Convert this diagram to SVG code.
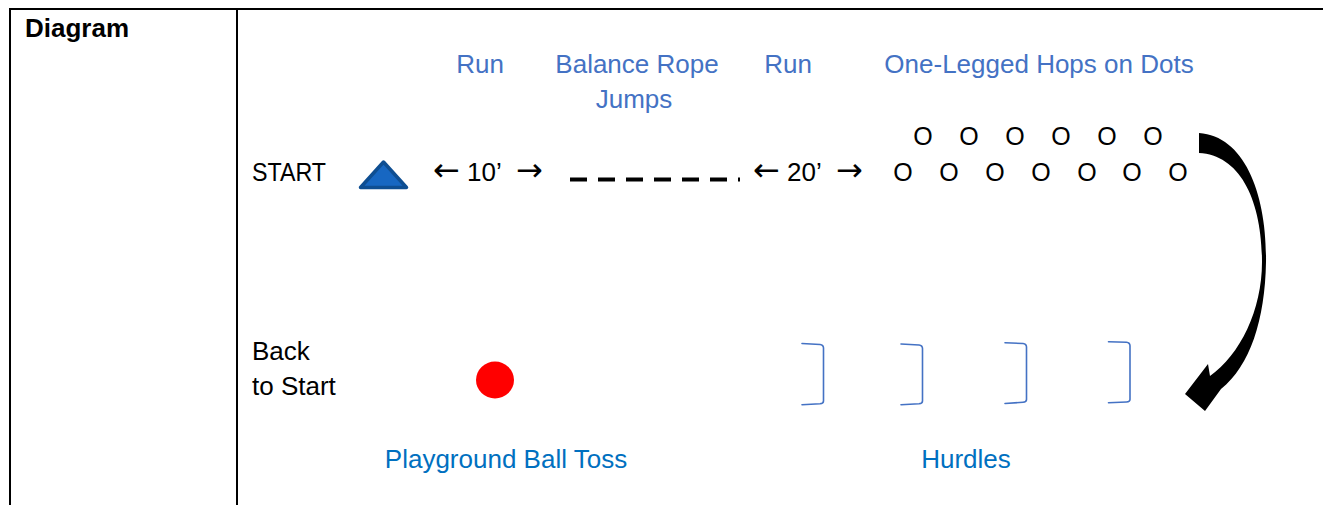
<svg xmlns="http://www.w3.org/2000/svg" width="1323" height="505" viewBox="0 0 1323 505">
  <style>
    text { font-family: "Liberation Sans", Arial, sans-serif; font-size: 26px; }
    .lbl { fill: #4472C4; text-anchor: middle; }
    .lbl2 { fill: #0070C0; text-anchor: middle; }
    .blk { fill: #000000; }
    .mid { text-anchor: middle; }
    .arr { font-family: "DejaVu Sans", sans-serif; font-size: 32px; }
    .dot { fill: #000000; text-anchor: middle; font-size: 25px; }
    .grid { stroke: #000000; stroke-width: 2; fill: none; }
    .hurdle { stroke: #4472C4; stroke-width: 1.6; fill: none; stroke-linecap: round; }
  </style>
  <rect width="1323" height="505" fill="#ffffff"/>

  <g id="table">
    <line class="grid" x1="10" y1="9" x2="1323" y2="9"/>
    <line class="grid" x1="10" y1="8" x2="10" y2="505"/>
    <line class="grid" x1="237" y1="9" x2="237" y2="505"/>
    <text x="25" y="37" class="blk" font-weight="bold" font-size="25">Diagram</text>
  </g>

  <g id="labels-top">
    <text x="480" y="73" class="lbl">Run</text>
    <text x="637" y="73" class="lbl">Balance Rope</text>
    <text x="634" y="108" class="lbl">Jumps</text>
    <text x="788" y="73" class="lbl">Run</text>
    <text x="1039" y="73" class="lbl">One-Legged Hops on Dots</text>
  </g>

  <g id="start">
    <text x="252" y="181" class="blk" font-size="25" textLength="74" lengthAdjust="spacingAndGlyphs">START</text>
  </g>

  <g id="cone">
    <polygon points="360.5,187.5 383.5,162 406.5,187.5" fill="#1767C2" stroke="#0E4E92" stroke-width="3.5" stroke-linejoin="round"/>
  </g>

  <g id="run1">
    <text y="181" class="blk"><tspan x="433" class="arr">←</tspan><tspan x="467">10’</tspan><tspan x="516" class="arr">→</tspan></text>
  </g>

  <g id="rope">
    <line x1="570" y1="179.5" x2="740" y2="179.5" stroke="#000000" stroke-width="4" stroke-dasharray="17 11"/>
  </g>

  <g id="run2">
    <text y="181" class="blk"><tspan x="753" class="arr">←</tspan><tspan x="787">20’</tspan><tspan x="836" class="arr">→</tspan></text>
  </g>

  <g id="dots">
    <text x="923" y="145" class="dot">O</text>
    <text x="969" y="145" class="dot">O</text>
    <text x="1015" y="145" class="dot">O</text>
    <text x="1061" y="145" class="dot">O</text>
    <text x="1107" y="145" class="dot">O</text>
    <text x="1153" y="145" class="dot">O</text>
    <text x="903" y="181" class="dot">O</text>
    <text x="949" y="181" class="dot">O</text>
    <text x="995" y="181" class="dot">O</text>
    <text x="1041" y="181" class="dot">O</text>
    <text x="1087" y="181" class="dot">O</text>
    <text x="1132" y="181" class="dot">O</text>
    <text x="1178" y="181" class="dot">O</text>
  </g>

  <g id="back-to-start">
    <text x="252" y="360" class="blk" font-size="25">Back</text>
    <text x="252" y="395" class="blk" font-size="25">to Start</text>
  </g>

  <g id="ball">
    <ellipse cx="495" cy="380" rx="19" ry="18.5" fill="#FF0000"/>
  </g>

  <g id="hurdles">
    <path class="hurdle" d="M802,343.5 L820,344.5 Q823.5,345 823.5,348 L823.5,401 Q823.5,403.5 820,403.8 L802,404.8"/>
    <path class="hurdle" d="M901,344 L919,345 Q922.5,345.5 922.5,348.5 L922.5,401 Q922.5,403.5 919,403.8 L901,404.8"/>
    <path class="hurdle" d="M1005,342.7 L1023,343.5 Q1026.5,344 1026.5,347 L1026.5,399.5 Q1026.5,402 1023,402.3 L1005,403.5"/>
    <path class="hurdle" d="M1108.5,341.7 L1126.5,342.3 Q1130,342.8 1130,345.8 L1130,399.5 Q1130,401.8 1126.5,402 L1108.5,402.7"/>
  </g>

  <g id="labels-bottom">
    <text x="506" y="468" class="lbl2">Playground Ball Toss</text>
    <text x="966" y="468" class="lbl2">Hurdles</text>
  </g>

  <g id="connectors">
    <path d="M1199,133 C1245,136 1267,195 1266,262 C1265,320 1250,366 1221,389 L1205,411 L1185,394 L1208,364 L1210,376 C1240,355 1262,310 1262,262 C1262,200 1240,155 1199,153 Z" fill="#000000"/>
  </g>
</svg>
